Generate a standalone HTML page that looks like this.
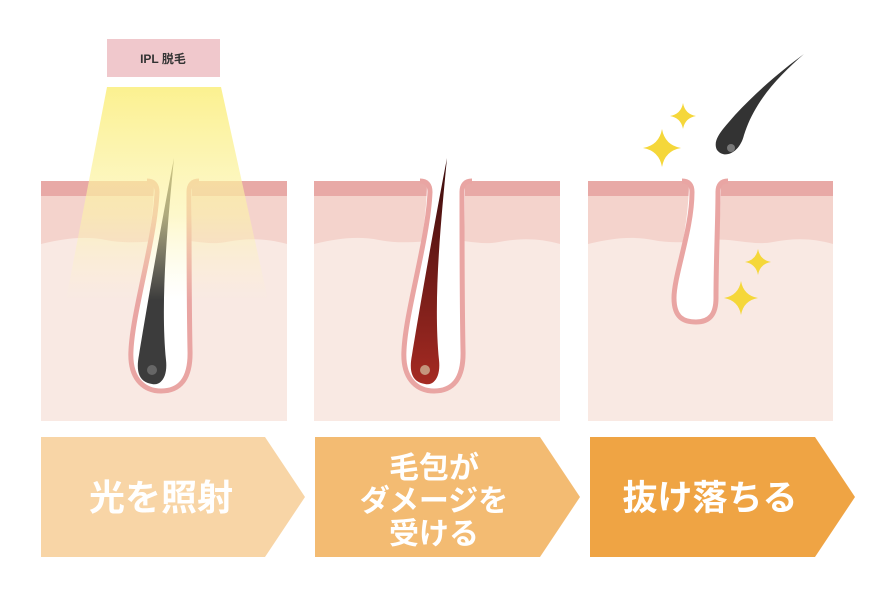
<!DOCTYPE html>
<html><head><meta charset="utf-8"><style>
html,body{margin:0;padding:0;background:#fff;}
svg{display:block}
text{font-family:"Liberation Sans","Noto Sans CJK JP",sans-serif;font-weight:bold;fill:#fff;text-anchor:middle}
</style></head><body>
<svg width="870" height="607" viewBox="0 0 870 607" xmlns="http://www.w3.org/2000/svg">
<defs>
<linearGradient id="beam" x1="0" y1="0" x2="0" y2="1">
<stop offset="0" stop-color="#fbf08a" stop-opacity="0.95"/>
<stop offset="0.6" stop-color="#fcf3a8" stop-opacity="0.6"/>
<stop offset="1" stop-color="#fdf7c8" stop-opacity="0"/>
</linearGradient>
<linearGradient id="redh" x1="0" y1="0" x2="0" y2="1"><stop offset="0" stop-color="#3a0d0d"/><stop offset="1" stop-color="#a52a22"/></linearGradient>
<g id="skin">
<rect x="0" y="181" width="246" height="240" fill="#f9e9e3"/>
<path d="M0,196 H246 V244 C225,238 205,238 185,242 C165,246 145,238 125,240 C105,242 85,244 65,240 C45,236 25,238 0,244 Z" fill="#f4d3cc"/>
<rect x="0" y="181" width="246" height="15" fill="#e8a9a6"/>
</g>
<g id="fol">
<path d="M113,181 C113,240 92,310 90,350 C88,382 106,391 120,391 C138,391 150,380 149,350 C148,300 151,240 151,181 Z" fill="#fff"/>
<path d="M106,181 Q116,181 116,192 C114,240 92,310 90,350 C88,382 106,391 120,391 C138,391 150,380 149,350 C148,300 148,240 148,192 Q148,181 158,181" fill="none" stroke="#e9a5a3" stroke-width="5"/>
</g>
<g id="spark"><path d="M0,-10 Q1.5,-1.5 10,0 Q1.5,1.5 0,10 Q-1.5,1.5 -10,0 Q-1.5,-1.5 0,-10Z" fill="#f5d73a"/></g>
</defs>

<!-- Panel 1 -->
<g transform="translate(41,0)"><use href="#skin"/><use href="#fol"/></g>
<path d="M174,158 C168,220 160,300 166,360 C168,378 160,386 152,384 C138,382 136,370 139,355 C148,300 162,220 174,158Z" fill="#3c3c3c"/>
<circle cx="152" cy="370" r="5" fill="#777" opacity="0.7"/>
<polygon points="107,87 221,87 268,300 66,300" fill="url(#beam)"/>
<rect x="107" y="39" width="113" height="38" fill="#f0c8cc"/>
<text x="163" y="63" font-size="12" style="fill:#333">IPL 脱毛</text>

<!-- Panel 2 -->
<g transform="translate(314,0)"><use href="#skin"/><use href="#fol"/></g>
<path d="M447,158 C441,220 433,300 439,360 C441,378 433,386 425,384 C411,382 409,370 412,355 C421,300 435,220 447,158Z" fill="url(#redh)"/>
<circle cx="425" cy="370" r="5" fill="#ddb" opacity="0.6"/>

<!-- Panel 3 -->
<g transform="translate(588,0)">
<rect x="0" y="181" width="245" height="240" fill="#f9e9e3"/>
<path d="M0,196 H245 V244 C225,238 205,238 185,242 C165,246 145,238 125,240 C105,242 85,244 65,240 C45,236 25,238 0,244 Z" fill="#f4d3cc"/>
<rect x="0" y="181" width="245" height="15" fill="#e8a9a6"/>
<path d="M101,181 C101,230 86,275 86,298 C86,318 96,322 108,322 C122,322 128,314 128,298 C128,260 133,220 133,181 Z" fill="#fff"/>
<path d="M94,181 Q104,181 104,192 C104,230 86,275 86,298 C86,318 96,322 108,322 C122,322 128,314 128,298 C128,260 130,220 130,192 Q130,181 140,181" fill="none" stroke="#e9a5a3" stroke-width="5"/>
</g>
<path d="M804,54 C780,75 755,100 744,135 C740,152 725,160 717,150 C712,140 722,130 735,115 C760,88 785,68 804,54Z" fill="#333"/>
<circle cx="731" cy="148" r="4" fill="#777"/>
<use href="#spark" transform="translate(662,148) scale(1.9)"/>
<use href="#spark" transform="translate(683,116) scale(1.3)"/>
<use href="#spark" transform="translate(758,262) scale(1.3)"/>
<use href="#spark" transform="translate(741,298) scale(1.7)"/>

<!-- Arrows -->
<polygon points="41,437 265,437 305,497 265,557 41,557" fill="#f8d5a6"/>
<polygon points="315,437 540,437 580,497 540,557 315,557" fill="#f3bb72"/>
<polygon points="590,437 815,437 855,497 815,557 590,557" fill="#efa444"/>
<text x="161" y="510" font-size="36">光を照射</text>
<text x="434" y="478" font-size="30">毛包が</text>
<text x="434" y="511" font-size="30">ダメージを</text>
<text x="434" y="544" font-size="30">受ける</text>
<text x="710" y="510" font-size="35">抜け落ちる</text>
</svg>
</body></html>
